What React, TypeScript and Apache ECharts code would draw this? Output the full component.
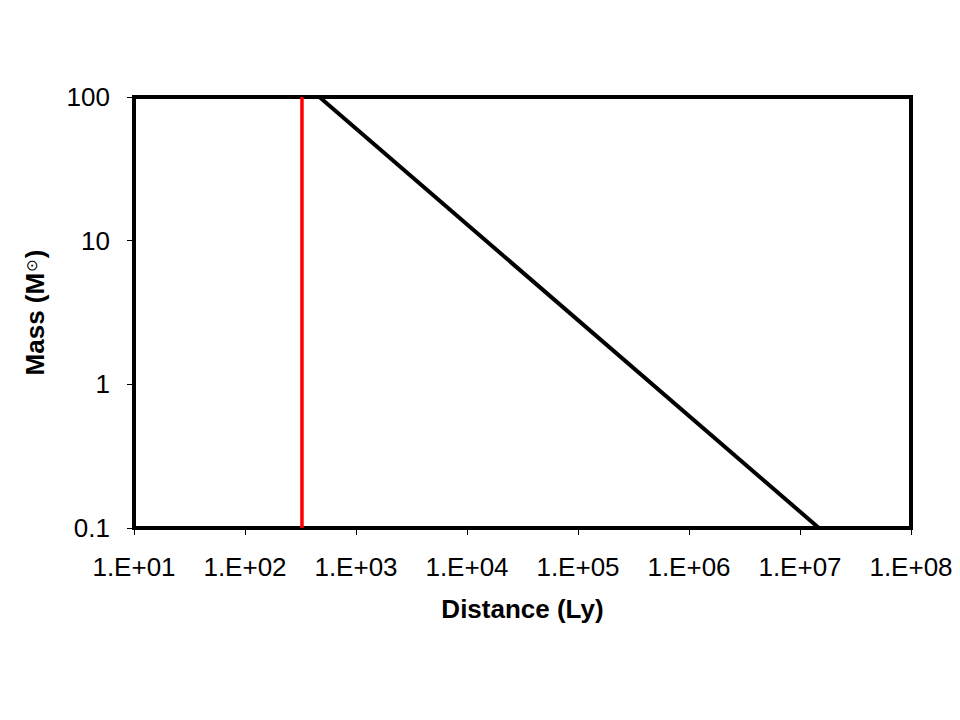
import React, { useEffect, useRef } from "react";
import * as echarts from "echarts";

const xTickLabels = ["1.E+01", "1.E+02", "1.E+03", "1.E+04", "1.E+05", "1.E+06", "1.E+07", "1.E+08"];
const yTickLabels = ["0.1", "1", "10", "100"];
// Mass-distance limit line (distance in ly, mass in solar masses)
const limitDistance = [468, 1.48e7];
const limitMass = [100, 0.1];
// Vertical reference line
const refDistance = [326, 326];
const refMass = [0.1, 100];

export default function App() {
  const ref = useRef<HTMLDivElement>(null);
  useEffect(() => {
    if (!ref.current) return;
    const chart = echarts.init(ref.current, null, { renderer: "svg" });
    const font = "'Liberation Sans', Arial, sans-serif";
    chart.setOption({
      animation: false,
      backgroundColor: "#fff",
      grid: {
        left: 134,
        right: 49,
        top: 97,
        bottom: 192,
        show: true,
        borderColor: "#000",
        borderWidth: 4,
        backgroundColor: "transparent",
      },
      xAxis: {
        type: "log",
        logBase: 10,
        min: 10,
        max: 1e8,
        name: "Distance (Ly)",
        nameLocation: "middle",
        nameGap: 68,
        nameTextStyle: { fontFamily: font, fontSize: 26, fontWeight: "bold", color: "#000" },
        axisLine: { show: true, lineStyle: { color: "#000", width: 4 } },
        axisTick: { show: true, length: 7, lineStyle: { color: "#000", width: 1 } },
        splitLine: { show: false },
        minorTick: { show: false },
        axisLabel: {
          fontFamily: font,
          fontSize: 26,
          color: "#000",
          margin: 26,
          formatter: (v: number) => {
            const e = Math.round(Math.log10(v));
            return xTickLabels[e - 1] ?? "";
          },
        },
      },
      yAxis: {
        type: "log",
        logBase: 10,
        min: 0.1,
        max: 100,
        name: "Mass (M{sun|⊙})",
        nameLocation: "middle",
        nameGap: 86,
        nameRotate: 90,
        nameTextStyle: {
          fontFamily: font,
          fontSize: 26,
          fontWeight: "bold",
          color: "#000",
          rich: {
            sun: {
              fontFamily: "'DejaVu Sans', sans-serif",
              fontSize: 15,
              fontWeight: "normal",
              color: "#000",
              verticalAlign: "middle",
              padding: [0, 1, 6, 1],
            },
          },
        },
        axisLine: { show: true, lineStyle: { color: "#000", width: 4 } },
        axisTick: { show: true, length: 7, lineStyle: { color: "#000", width: 1 } },
        splitLine: { show: false },
        axisLabel: {
          fontFamily: font,
          fontSize: 26,
          color: "#000",
          margin: 24,
          formatter: (v: number) => {
            const e = Math.round(Math.log10(v));
            return yTickLabels[e + 1] ?? "";
          },
        },
      },
      series: [
        {
          type: "line",
          data: limitDistance.map((d, i) => [d, limitMass[i]]),
          symbol: "none",
          lineStyle: { color: "#000", width: 4 },
          z: 3,
        },
        {
          type: "line",
          data: refDistance.map((d, i) => [d, refMass[i]]),
          symbol: "none",
          lineStyle: { color: "#ff0000", width: 3.5 },
          z: 2,
        },
      ],
    });
    return () => chart.dispose();
  }, []);
  return (
    <div
      ref={ref}
      style={{ position: "fixed", left: 0, top: 0, width: 960, height: 720, background: "#fff" }}
    />
  );
}
